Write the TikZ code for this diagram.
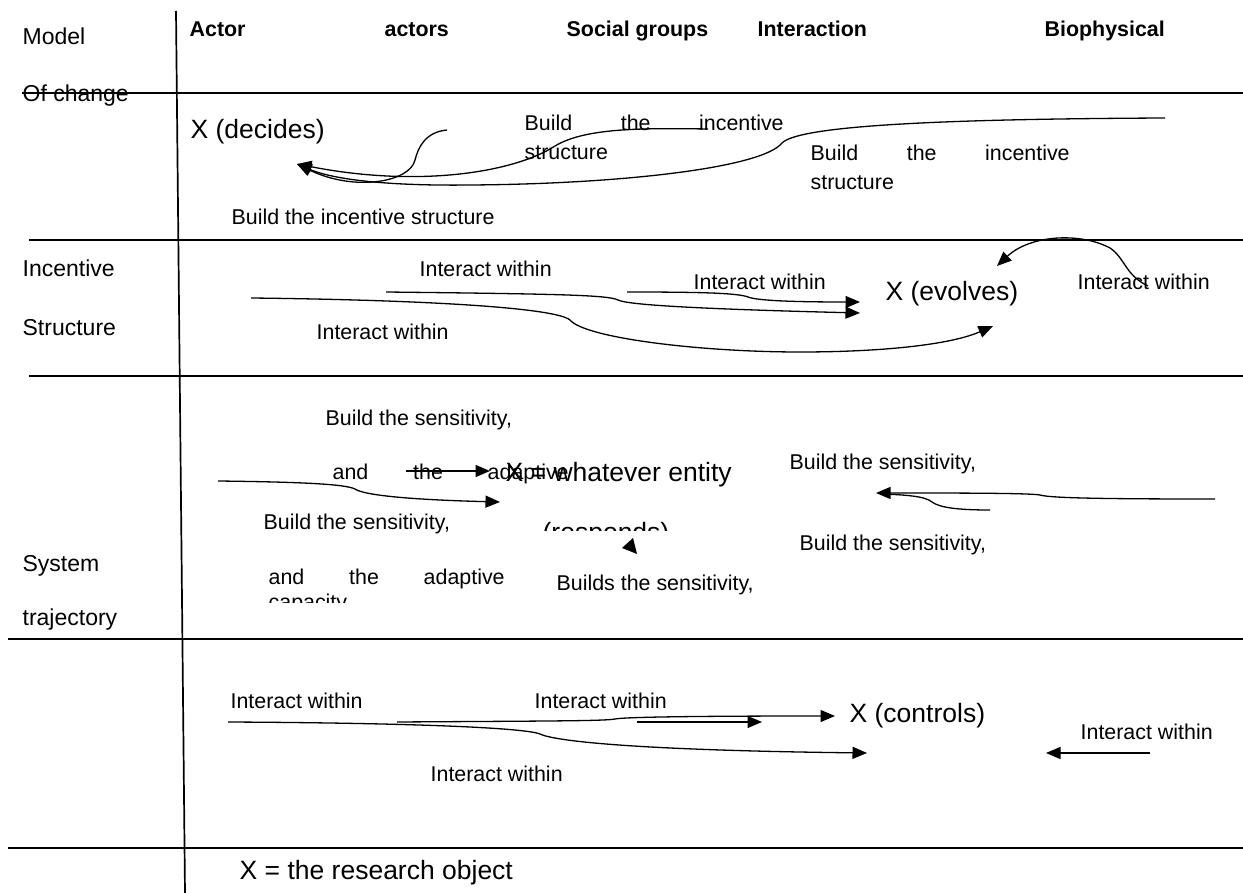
\documentclass[tikz,border=0pt]{standalone}
\usepackage{fontspec}
\setmainfont{Liberation Sans}
\usetikzlibrary{arrows.meta,positioning}

\begin{document}
\begin{tikzpicture}[x=1pt, y=-1pt, line width=1.3pt,
		>={Triangle[length=14.5pt,width=12pt]},
		label node/.style={inner sep=0pt, anchor=base west, font=\fontsize{21.4}{25}\selectfont},
		head node/.style={label node, font=\fontsize{21.4}{25}\selectfont\bfseries},
		side node/.style={label node, font=\fontsize{23}{27}\selectfont},
		big node/.style={label node, font=\fontsize{26.5}{31}\selectfont},
		grid line/.style={line width=1.7pt}]
		
		\useasboundingbox (0,0) rectangle (1243,893);
		
		% table
		\draw[grid line] (176,11) -- (185,893);
		\draw[grid line] (22,93) -- (1243,93);
		\draw[grid line] (29,240) -- (1243,240);
		\draw[grid line] (29,376) -- (1243,376);
		\draw[grid line] (8,639) -- (1243,639);
		\draw[grid line] (8,848) -- (1243,848);
		
		\node[side node] (model) at (22,45) {Model};
		\node[side node] (change) at (22,102) {Of change};
		\node[side node] (incentive) at (22,277) {Incentive};
		\node[side node] (structure) at (22,336) {Structure};
		\node[side node] (system) at (22,571) {System};
		\node[side node] (trajectory) at (22,625) {trajectory};
		
		\node[head node] (actor) at (189,37) {Actor};
		\node[head node] (actors) at (384,37) {actors};
		\node[head node] (social) at (566,37) {Social groups};
		\node[head node] (interaction) at (757,37) {Interaction};
		\node[head node] (bio) at (1044,37) {Biophysical};
		
		% row 1
		\node[big node] (decides) at (190,139) {X (decides)};
		\node[label node] (bis1) at (524,131) {\makebox[259pt][s]{Build the incentive}};
		\node[label node] (bis1 b) at ([yshift=-29pt]bis1.base west) {structure};
		\node[label node] (bis2) at (810,161) {\makebox[259pt][s]{Build the incentive}};
		\node[label node] (bis2 b) at ([yshift=-29pt]bis2.base west) {structure};
		\node[label node] (bis3) at (231,225) {Build the incentive structure};
		
		\coordinate (d tip) at (297,164);
		\coordinate (d1) at (447,130);
		\coordinate (d2) at (708,129);
		\coordinate (d3) at (1165,118);
		\draw[->] (d1) .. controls (425,132) and (418,148) .. (415,160) .. controls (410,182) and (355,192) .. (d tip);
		\draw[->] (d2) .. controls (640,128) and (585,128) .. (555,146) .. controls (515,172) and (420,188) .. (d tip);
		\draw[->] (d3) .. controls (950,119) and (800,125) .. (782,143) .. controls (762,168) and (620,184) .. (470,185) .. controls (390,186) and (335,180) .. (d tip);
		
		% row 2
		\node[label node] (iw1) at (419,277) {Interact within};
		\node[label node] (iw2) at (693,290) {Interact within};
		\node[label node] (iw3) at (316,340) {Interact within};
		\node[label node] (iw4) at (1077,290) {Interact within};
		\node[big node] (evolves) at (885,301) {X (evolves)};
		
		\coordinate (e1) at (386,292);
		\coordinate (e2) at (627,292);
		\coordinate (e3) at (251,298);
		\coordinate (e4) at (1148,286);
		\coordinate (e tip1) at (860,302);
		\coordinate (e tip2) at (860,313);
		\coordinate (e tip3) at (993,326);
		\coordinate (e tip4) at (997,266);
		\draw[->] (e1) .. controls (560,294) and (608,295) .. (618,300) .. controls (628,305) and (700,309) .. (e tip2);
		\draw[->] (e2) .. controls (700,292) and (738,293) .. (748,297) .. controls (758,301) and (800,302) .. (e tip1);
		\draw[->] (e3) .. controls (430,300) and (556,308) .. (570,320) .. controls (585,338) and (700,352) .. (800,352) .. controls (880,352) and (950,345) .. (e tip3);
		\draw[->] (e4) .. controls (1125,275) and (1125,258) .. (1110,248) .. controls (1080,232) and (1030,235) .. (e tip4);
		
		% row 3
		\node[label node] (bs1) at (325,425) {Build the sensitivity,};
		\node[label node] (bs1 b) at (332,479) {\makebox[236pt][s]{and the adaptive}};
		\node[label node] (bs2) at (263,529) {Build the sensitivity,};
		\node[label node] (bs2 b) at (268,584) {\makebox[236pt][s]{and the adaptive}};
		\begin{scope}
			\clip (0,0) rectangle (1243,602);
			\node[label node] (bs2 c) at (268,609) {capacity};
		\end{scope}
		\node[big node] (entity) at (505,481) {X = whatever entity};
		\begin{scope}
			\clip (0,0) rectangle (1243,530);
			\node[big node] (responds) at (542,541) {(responds)};
		\end{scope}
		\node[label node] (bs3) at (789,469) {Build the sensitivity,};
		\node[label node] (bs4) at (799,550) {Build the sensitivity,};
		\node[label node] (bs5) at (556,590) {Builds the sensitivity,};
		
		\coordinate (r1) at (406,471);
		\coordinate (r tip1) at (490,471);
		\coordinate (r2) at (218,481);
		\coordinate (r tip2) at (500,502);
		\coordinate (r3) at (1215,499);
		\coordinate (r4) at (990,510);
		\coordinate (r tip3) at (876,493);
		\draw[->] (r1) -- (r tip1);
		\draw[->] (r2) .. controls (300,482) and (345,484) .. (355,489) .. controls (365,496) and (420,500) .. (r tip2);
		\draw[->] (r3) .. controls (1100,499) and (1050,498) .. (1040,495) .. controls (1030,493) and (950,493) .. (r tip3);
		\draw (r4) .. controls (960,510) and (940,508) .. (932,502) .. controls (925,496) and (905,495) .. (884,494);
		\fill (622,548) -- (633,538) -- (637,554) -- cycle;
		
		% row 4
		\node[label node] (iw5) at (230,708) {Interact within};
		\node[label node] (iw6) at (534,708) {Interact within};
		\node[label node] (iw7) at (430,781) {Interact within};
		\node[label node] (iw8) at (1080,739) {Interact within};
		\node[big node] (controls) at (849,722) {X (controls)};
		
		\coordinate (c1) at (397,722);
		\coordinate (c2) at (637,722);
		\coordinate (c3) at (228,722);
		\coordinate (c4) at (1150,753);
		\coordinate (c tip1) at (835,716);
		\coordinate (c tip2) at (762,722);
		\coordinate (c tip3) at (867,753);
		\coordinate (c tip4) at (1046,753);
		\draw[->] (c1) .. controls (550,721) and (605,721) .. (615,719) .. controls (625,717) and (700,716) .. (c tip1);
		\draw[->] (c3) .. controls (420,723) and (525,728) .. (540,734) .. controls (552,740) and (620,750) .. (c tip3);
		\path (c2) edge[->] (c tip2)
		(c4) edge[->] (c tip4);
		
		\node[big node] (object) at (239,879) {X = the research object};
		\end{tikzpicture}
\end{document}
